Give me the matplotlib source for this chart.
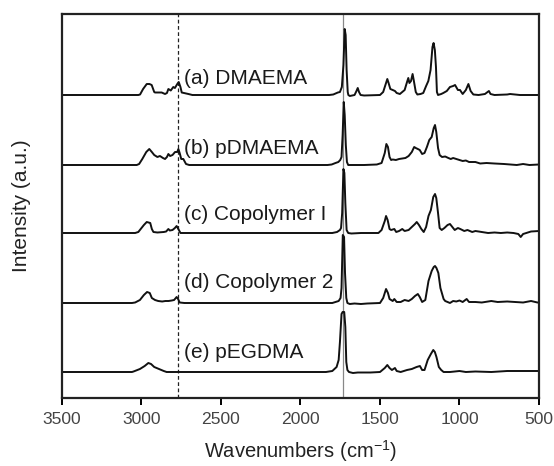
import matplotlib
matplotlib.use("Agg")
import matplotlib.pyplot as plt

plt.rcParams['font.family'] = ['Liberation Sans', 'DejaVu Sans']
plt.rcParams['mathtext.default'] = 'regular'

# ---------------- data (wavenumber, intensity above own baseline) ----------------
wn_a = [3500, 3300, 3020, 3009, 2990, 2967, 2950, 2936, 2920, 2915, 2890, 2873, 2852, 2840, 2831,
        2816, 2800, 2790, 2775, 2766, 2755, 2747, 2705, 2680, 1820, 1794, 1765, 1752, 1740, 1730,
        1722, 1716, 1710, 1703, 1699, 1690, 1660, 1648, 1640, 1632, 1622, 1600, 1500, 1480, 1462,
        1454, 1446, 1435, 1420, 1406, 1395, 1375, 1345, 1330, 1322, 1315, 1305, 1295, 1288, 1275,
        1265, 1245, 1228, 1210, 1196, 1182, 1170, 1163, 1155, 1148, 1142, 1135, 1115, 1102, 1080,
        1060, 1040, 1028, 1010, 997, 980, 960, 944, 930, 913, 880, 840, 815, 805, 780, 700, 682, 620, 500]
int_a = [0, 0, 0, 0.5, 6, 11, 11, 10, 3, 2.5, 2.5, 2.5, 1, 2, 6,
         4.5, 8, 7, 11, 13, 8, 2.5, 1, 0, 0, 0.5, 2.5, 3, 8, 30,
         66, 60, 25, 3, 0, -1, 0, 4, 7, 3, 0, -0.5, 0, 3, 12,
         16, 12, 6, 5, 4, 2, 1, 5, 13, 17, 12, 14, 21, 15, 3,
         0.5, 1, 2, 9, 14, 25, 48, 52, 45, 28, 3, 0, 1, 2, 4,
         8, 9, 10, 5, 5, 1, 5, 11, 4, 0.5, 0, 1, 4, 1, 0, 0.5, 1, 0, 0]

wn_b = [3500, 3030, 3015, 2995, 2970, 2951, 2935, 2920, 2900, 2884, 2865, 2852, 2840, 2831, 2820,
        2805, 2789, 2775, 2768, 2760, 2750, 2737, 2720, 2700, 1830, 1804, 1780, 1762, 1750, 1742,
        1735, 1728, 1722, 1715, 1708, 1700, 1600, 1520, 1490, 1470, 1460, 1450, 1440, 1430, 1420,
        1400, 1380, 1360, 1340, 1320, 1300, 1285, 1275, 1262, 1250, 1235, 1220, 1205, 1190, 1175,
        1162, 1154, 1146, 1135, 1125, 1110, 1090, 1070, 1055, 1040, 1020, 1000, 980, 960, 940,
        900, 870, 830, 780, 720, 680, 640, 600, 560, 500]
int_b = [0, 0, 1, 6, 13, 16, 13, 10, 8, 9, 7, 6, 8, 11, 9,
         10, 13, 13, 16, 12, 6, 6, 1, 0, 0, 0.5, 2, 3, 5, 8,
         30, 63, 50, 20, 3, 0, 0, 0.5, 2, 12, 21, 18, 8, 5, 5.5,
         5, 6, 6.5, 7, 9, 13, 18, 17, 16, 15, 11, 12, 18, 25, 28,
         37, 40, 33, 17, 10, 8, 8.5, 7, 6, 7, 6, 5, 4, 4.5, 3,
         3, 1.5, 2, 1.5, 1, 0.5, 0, 1, 0, 0.5]

wn_c = [3500, 3040, 3020, 3000, 2985, 2967, 2945, 2935, 2925, 2900, 2860, 2845, 2831, 2822, 2805,
        2790, 2779, 2765, 2755, 1800, 1770, 1752, 1745, 1738, 1730, 1724, 1718, 1710, 1700, 1680,
        1620, 1510, 1490, 1470, 1462, 1452, 1440, 1430, 1410, 1398, 1380, 1360, 1345, 1320, 1300,
        1280, 1269, 1255, 1240, 1225, 1210, 1195, 1180, 1165, 1154, 1146, 1135, 1125, 1112, 1095,
        1075, 1060, 1045, 1030, 1010, 995, 970, 950, 920, 900, 860, 820, 780, 740, 700,
        660, 630, 615, 600, 580, 550, 500]
int_c = [0, 0, 1, 5, 8, 11, 10, 4, 1, 0.5, 1, 1.5, 4, 2.5, 3,
         5, 7, 3, 0, 0, 1, 3, 5, 20, 64, 60, 30, 3, 0, -0.5,
         0, 0, 3, 12, 17, 13, 4, 3, 4, 1, 2, 4, 2, 3, 6,
         9, 11, 8, 4, 1, 6, 17, 23, 36, 39, 35, 20, 5, 3, 5,
         8, 9, 6, 3, 5, 4, 2, 3, 1, 2, 1, 0, 0.5, 0, 0.5,
         0, -1, -4, -1, 0, 1.5, 2]

wn_d = [3500, 3060, 3040, 3010, 2985, 2965, 2948, 2935, 2915, 2895, 2870, 2850, 2830, 2810, 2795,
        2779, 2770, 2760, 2730, 1800, 1760, 1748, 1742, 1734, 1726, 1720, 1712, 1705, 1690, 1660,
        1620, 1580, 1500, 1480, 1462, 1450, 1440, 1420, 1410, 1395, 1370, 1345, 1320, 1300, 1280,
        1262, 1250, 1235, 1215, 1195, 1175, 1162, 1154, 1145, 1133, 1120, 1100, 1090, 1060, 1040,
        1020, 1000, 980, 955, 940, 900, 860, 800, 760, 700, 650, 600, 550, 510, 500]
int_d = [0, 0, 0.5, 3, 8, 11, 10, 5, 3, 2, 1.5, 2, 2, 2.5, 3,
         6, 4, 0.5, 0, 0, 2, 5, 15, 68, 66, 30, 5, 0, -1, -0.5,
         -1, -0.5, 0, 5, 14, 10, 4, 2, 4, 1, 1, 3, 2, 4, 7,
         9, 6, 1, 3, 22, 32, 36, 37, 35, 30, 15, 4, 2, 0, 2,
         1.5, 2.5, 1, 4, 1, 1, 0.5, 2, 1, 1.5, 1, 0.5, 2, 0.5, 0.5]

wn_e = [3500, 3060, 3050, 3010, 2980, 2957, 2940, 2920, 2890, 2860, 2842, 1840, 1800, 1773, 1760,
        1752, 1742, 1735, 1725, 1718, 1712, 1705, 1695, 1670, 1640, 1560, 1500, 1470, 1454, 1440,
        1425, 1406, 1395, 1370, 1330, 1300, 1270, 1249, 1235, 1220, 1200, 1180, 1165, 1155, 1145,
        1130, 1115, 1100, 1060, 1000, 960, 900, 800, 700, 500]
int_e = [0, 0, 0.5, 3, 6, 9, 8, 5, 3, 1, 0, 0, 1, 5, 12,
         30, 58, 60, 60, 45, 10, 2, 0, -1, -0.5, -0.5, 0, 4, 7, 4,
         2, 4, 1, 0, 2, 3, 5, 6, 2, 2, 12, 18, 22, 20, 15,
         5, 2, 0, 0, 1, 0, 0.5, 0, 1, 1]

spectra_wn = [wn_a, wn_b, wn_c, wn_d, wn_e]
spectra_int = [int_a, int_b, int_c, int_d, int_e]
baselines = [303, 233, 165, 95, 26]
labels = ['(a) DMAEMA', '(b) pDMAEMA', '(c) Copolymer I', '(d) Copolymer 2', '(e) pEGDMA']
label_y = [320, 250, 184, 115, 46]
label_x = 2735
dashed_wn = 2770
solid_wn = 1735
xticks = [3500, 3000, 2500, 2000, 1500, 1000, 500]

# ---------------- figure ----------------
fig = plt.figure(figsize=(5.54, 4.66), dpi=100)
ax = fig.add_axes([62/554, 68/466, 477/554, 384/466])

ax.axvline(dashed_wn, color='#222222', lw=0.9, ls=(0, (3, 2)), zorder=1)
ax.axvline(solid_wn, color='#888888', lw=0.9, zorder=1)

for wn, it, b in zip(spectra_wn, spectra_int, baselines):
    ax.plot(wn, [b + v for v in it], color='#111111', lw=1.4, zorder=2)

for lab, ly in zip(labels, label_y):
    ax.text(label_x, ly, lab, fontsize=15, color='#1a1a1a', ha='left', va='center')

ax.set_xlim(3500, 500)
ax.set_ylim(0, 384)
ax.set_xticks(xticks)
ax.set_yticks([])
ax.tick_params(axis='x', direction='out', length=5, width=1.4, labelsize=12.6,
               labelcolor='#444444', pad=5)
for sp in ax.spines.values():
    sp.set_linewidth(1.6)
    sp.set_color('#222222')

ax.set_xlabel('Wavenumbers (cm$^{-1}$)', fontsize=14.5, color='#222222', labelpad=8)
ax.set_ylabel('Intensity (a.u.)', fontsize=15, color='#222222', labelpad=22)

fig.savefig('out.png', dpi=100)
